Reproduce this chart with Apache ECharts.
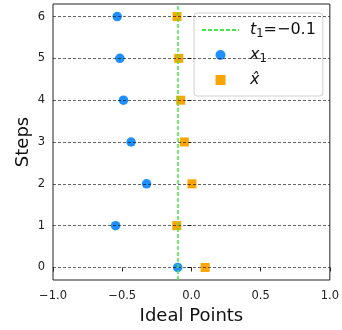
<!DOCTYPE html>
<html>
<head>
<meta charset="utf-8">
<script src="https://cdn.jsdelivr.net/npm/echarts@6/dist/echarts.min.js"></script>
<style>
  html, body { margin: 0; padding: 0; background: #fff; }
  #chart { width: 342px; height: 330px; }
</style>
</head>
<body>
<div id="chart"></div>
<script>
// values
var steps = [0, 1, 2, 3, 4, 5, 6];
var x1 = [-0.099, -0.548, -0.324, -0.436, -0.491, -0.517, -0.536];
var xHat = [0.099, -0.106, 0.004, -0.051, -0.078, -0.092, -0.104];
var t1 = -0.1;

var FONT = "DejaVu Sans";

function fmtTick(v) {
  return (v < 0 ? "\u2212" : "") + Math.abs(v).toFixed(1);
}

var legendText = {
  t1: "{it|t}{sub|1}{n|=\u22120.1}",
  x1: "{it|x}{sub|1}",
  xhat: "{it|x\u0302}"
};

var chart = echarts.init(document.getElementById("chart"));

var option = {
  animation: false,
  grid: {
    left: 53, right: 10, top: 4, bottom: 49,
    show: true,
    borderColor: "#222",
    borderWidth: 1
  },
  xAxis: {
    type: "value",
    min: -1, max: 1, interval: 0.5,
    name: "Ideal Points",
    nameLocation: "middle",
    nameGap: 27,
    nameMoveOverlap: false,
    nameTextStyle: { fontFamily: FONT, fontSize: 18, color: "#111" },
    axisLine: { show: false },
    axisTick: { show: true, inside: false, length: 4, lineStyle: { color: "#222" } },
    axisLabel: { fontFamily: FONT, fontSize: 11.5, color: "#222", margin: 10, formatter: fmtTick },
    splitLine: { show: false }
  },
  yAxis: {
    type: "value",
    min: -0.3, max: 6.3,
    name: "Steps",
    nameLocation: "middle",
    nameGap: 21,
    nameMoveOverlap: false,
    nameTextStyle: { fontFamily: FONT, fontSize: 18, color: "#111" },
    axisLine: { show: false },
    axisTick: { show: true, inside: false, length: 4, customValues: steps, lineStyle: { color: "#222" } },
    axisLabel: { fontFamily: FONT, fontSize: 11.5, color: "#222", margin: 8, customValues: steps },
    splitLine: { show: false }
  },
  legend: {
    orient: "vertical",
    left: 194, top: 13,
    padding: [9, 7, 8, 7],
    itemWidth: 37, itemHeight: 10, itemGap: 7,
    symbolKeepAspect: true,
    backgroundColor: "rgba(255,255,255,0.8)",
    borderColor: "#d0d0d0", borderWidth: 1, borderRadius: 3,
    data: [
      { name: "t1", itemStyle: { opacity: 0, color: "rgba(0,0,0,0)" } },
      { name: "x1" },
      { name: "xhat", icon: "path://M0,0L10,0L10,10L0,10Z" }
    ],
    formatter: function (name) { return legendText[name]; },
    textStyle: {
      fontFamily: FONT, fontSize: 16, color: "#111", padding: [0, 0, 0, 6],
      rich: {
        it: { fontFamily: FONT, fontStyle: "italic", fontSize: 16, lineHeight: 20, color: "#111" },
        sub: { fontFamily: FONT, fontSize: 11.5, lineHeight: 20, verticalAlign: "bottom", padding: [6, 0, 0, 0], color: "#111" },
        n: { fontFamily: FONT, fontSize: 16, lineHeight: 20, color: "#111" }
      }
    }
  },
  series: [
    {
      name: "grid",
      type: "line",
      data: [],
      z: 1,
      silent: true,
      markLine: {
        silent: true,
        symbol: "none",
        label: { show: false },
        lineStyle: { color: "#000", width: 0.6, type: [3, 2] },
        data: steps.map(function (s) { return { yAxis: s }; })
      }
    },
    {
      name: "t1",
      type: "line",
      data: [],
      z: 2,
      symbol: "none",
      itemStyle: { color: "#44e844" },
      lineStyle: { color: "#44e844", width: 1.5, type: [4, 2] },
      markLine: {
        silent: true,
        symbol: "none",
        label: { show: false },
        lineStyle: { color: "#44e844", width: 1.5, type: [4, 2] },
        data: [{ xAxis: t1 }]
      }
    },
    {
      name: "x1",
      type: "scatter",
      z: 3,
      symbol: "circle",
      symbolSize: 9.5,
      itemStyle: { color: "#1e90ff", opacity: 1 },
      data: steps.map(function (s, i) { return [x1[i], s]; })
    },
    {
      name: "xhat",
      type: "scatter",
      z: 4,
      symbol: "rect",
      symbolSize: 9,
      itemStyle: { color: "#ffa500", opacity: 1 },
      data: steps.map(function (s, i) { return [xHat[i], s]; })
    }
  ]
};

chart.setOption(option);
</script>
</body>
</html>
